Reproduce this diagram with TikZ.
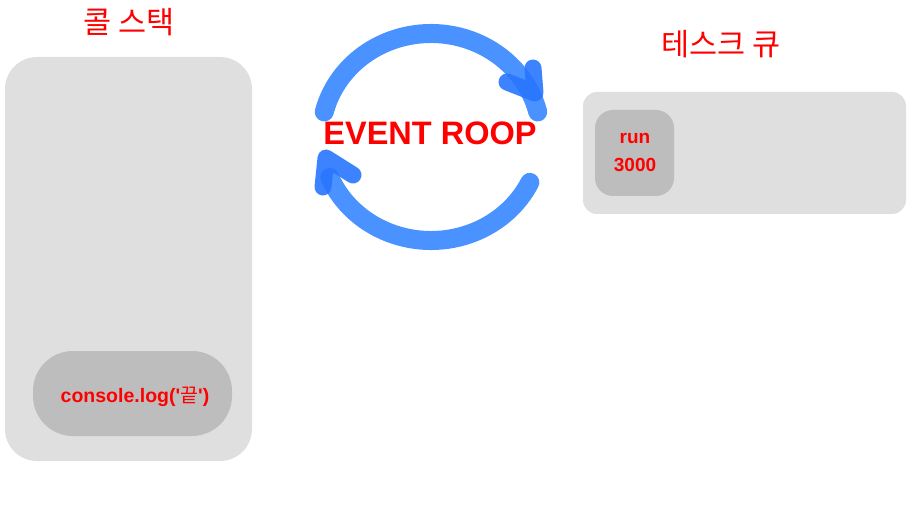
\documentclass[tikz,border=0pt]{standalone}
\usepackage{fontspec}
\setmainfont{Liberation Sans}[Ligatures=TeXOff]
\newfontfamily\kr{Noto Sans CJK KR}
\definecolor{boxgray}{RGB}{223,223,223}
\definecolor{innergray}{RGB}{189,189,189}
\definecolor{txtred}{RGB}{255,0,0}
\definecolor{loopblue}{RGB}{74,146,255}
\definecolor{tipblue}{RGB}{40,118,255}
\begin{document}
\begin{tikzpicture}[x=1pt,y=-1pt,
  outerbox/.style={fill=boxgray,draw=none},
  innerbox/.style={fill=innergray,draw=none},
  title/.style={text=txtred,font=\kr\fontsize{30.5}{32}\selectfont,inner sep=0pt},
  label/.style={text=txtred,font=\bfseries\fontsize{17}{20}\selectfont,inner sep=0pt,align=center},
  looparc/.style={draw=loopblue,line width=19pt,line cap=round},
  looptip/.style={draw=tipblue,line width=17pt,line cap=round,line join=round,opacity=0.9}]
\useasboundingbox (0,0) rectangle (924,505);
% call stack
\fill[outerbox,rounded corners=32pt] (5,57) rectangle (252,461);
\fill[innerbox,rounded corners=40pt] (33,351) rectangle (232,436);
\node[label,font=\bfseries\fontsize{19.5}{22}\selectfont] (cl) at (135,397) {console.log('{\kr\mdseries 끝}')};
\node[title] (cs) at (129,22) {콜 스택};
% task queue
\fill[outerbox,rounded corners=14pt] (583,92) rectangle (906,214);
\fill[innerbox,rounded corners=18pt] (595,110) rectangle (674,196);
\node[label,font=\bfseries\fontsize{19}{28}\selectfont] (run) at (635,152) {run\\3000};
\node[title] (tq) at (721,44) {테스크 큐};
% event loop
\coordinate (c) at (431,137);
\draw[looparc] (c) ++(-157:110pt and 103.5pt) arc[start angle=-157,end angle=-26,x radius=110pt,y radius=103.5pt];
\draw[looparc] (c) ++(14:110pt and 103.5pt) arc[start angle=14,end angle=166,x radius=110pt,y radius=103.5pt];
\coordinate (t1) at (535,93);
\coordinate (t2) at (326,158);
\draw[looptip] (533,68) -- (t1) -- (507,82);
\draw[looptip] (323,187) -- (t2) -- (353,175);
\node[text=txtred,font=\bfseries\fontsize{32.5}{34}\selectfont,inner sep=0pt] (ev) at (430,133) {EVENT ROOP};
\end{tikzpicture}
\end{document}
